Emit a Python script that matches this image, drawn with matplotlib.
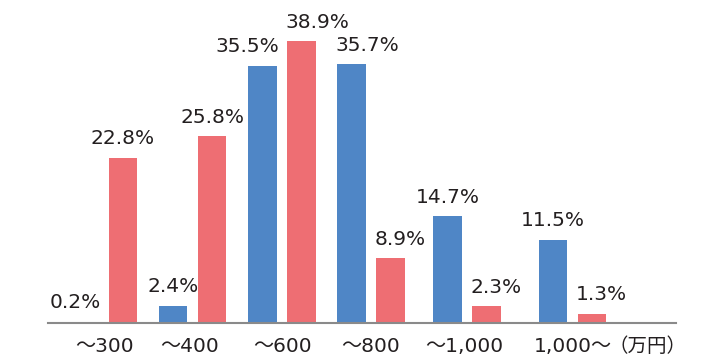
import matplotlib.pyplot as plt
import numpy as np

plt.rcParams['font.family'] = ['DejaVu Sans', 'Noto Sans CJK JP']

categories = ['～300', '～400', '～600', '～800', '～1,000', '1,000～']
blue_vals = [0.2, 2.4, 35.5, 35.7, 14.7, 11.5]
red_vals = [22.8, 25.8, 38.9, 8.9, 2.3, 1.3]

# group centres in pixel units (the groups are not evenly spaced)
centers = np.array([103.5, 192.5, 282, 371, 467, 572.5])
label_x = [104, 189.5, 282, 371, 464.5, 572.5]
bar_w = 28.5
off = 19.5

# how each value label sits over its bar
blue_ha = ['right', 'center', 'right', 'left', 'center', 'center']
red_ha = ['center', 'center', 'left', 'left', 'left', 'left']

blue = '#4f86c6'
red = '#ee6e73'
txt = '#231f20'

fig = plt.figure(figsize=(7.09, 3.6), dpi=100)
ax = fig.add_axes([48 / 709, 37 / 360, (676 - 48) / 709, 323 / 360])
ax.set_xlim(48, 676)
ax.set_ylim(0, 323 / 7.25)

ax.bar(centers - off, blue_vals, width=bar_w, color=blue)
ax.bar(centers + off, red_vals, width=bar_w, color=red)


def put_labels(xs, vals, has):
    for x, v, ha in zip(xs, vals, has):
        if ha == 'left':
            x = x - bar_w / 2 - 1.5
        elif ha == 'right':
            x = x + bar_w / 2 + 2.5
        ax.text(x, v + 1.85, f'{v}%', ha=ha, va='baseline', fontsize=14.5,
                color=txt, clip_on=False)


put_labels(centers - off, blue_vals, blue_ha)
put_labels(centers + off, red_vals, red_ha)

ax.set_xticks([])
for x, c in zip(label_x, categories):
    ax.text(x, -29 / 7.25, c, ha='center', va='baseline', fontsize=14.5,
            color=txt, clip_on=False)
ax.set_yticks([])
for s in ['top', 'right', 'left']:
    ax.spines[s].set_visible(False)
ax.spines['bottom'].set_color('#8a8a8a')
ax.spines['bottom'].set_linewidth(1.5)

ax.text(647.5, -29 / 7.25, '（万円）', ha='center', va='baseline',
        fontsize=14, color=txt, family=['Noto Sans CJK JP'], clip_on=False)

fig.savefig('out.png', dpi=100)
